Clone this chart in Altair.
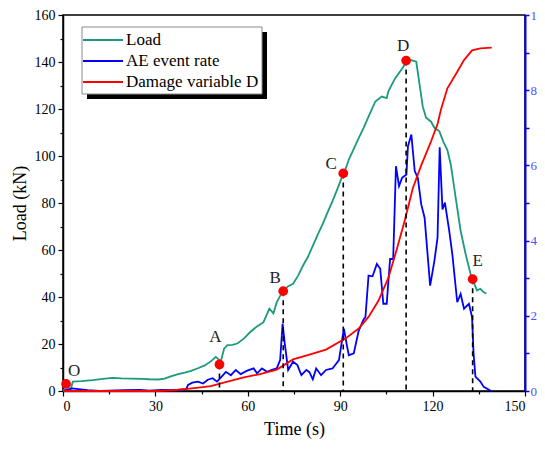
import altair as alt
import pandas as pd

# ---------------- data ----------------
time_load = [0, 2.5, 3.2, 6, 9.6, 13, 16, 19, 22.4, 25.6, 28, 31, 33, 35, 37.4, 39.5, 41.6, 44, 46, 48,
             49.6, 50.5, 51.2, 52.3, 53.4, 55, 56.6, 58.7, 60.8, 63, 65.1, 67, 68.3, 69.4, 70.5, 71.5,
             73, 74.7, 76.3, 77.9, 79.5, 81.1, 82.7, 84.3, 85.9, 87.5, 89.1, 90.7, 91.5, 92.8, 94.4, 96,
             97.6, 99.2, 101.4, 103.5, 105.1, 105.6, 107.8, 109.4, 110.5, 111.5, 113.1, 114.7, 115.8,
             116.8, 117.9, 119.5, 120.6, 122.2, 123.5, 124.8, 125.9, 127.5, 129.1, 130.7, 132.3, 133.0,
             134.4, 135.5, 136.6, 137.5]
load = [0.5, 0.8, 4, 4.2, 4.6, 5.2, 5.6, 5.4, 5.3, 5.2, 5.0, 4.9, 5.3, 6.2, 7.2, 7.8, 8.6, 9.8, 10.9, 12.6,
        14.5, 13.5, 12.4, 18, 19.5, 19.6, 20.2, 22.3, 25.1, 27.5, 29.3, 35.0, 33.0, 37.8, 40.5, 42.7,
        44.5, 45.6, 49, 53.3, 57, 61.8, 66.5, 71, 76, 80.8, 86, 91.4, 93.5, 98.5, 103, 107.6,
        112, 116.8, 123.2, 125.3, 124.6, 127.4, 133, 135.9, 138, 140.5, 140.8, 140.1, 130.2,
        121, 116.3, 114.6, 112, 110.5, 106, 102.5, 96.4, 82.2, 68.2, 58.4, 49.9, 47.5,
        42.8, 43.5, 42, 41.5]

time_ae = [0, 3, 5, 8, 12, 20, 25, 28, 32, 36, 40, 40.6, 42, 43.8, 45.5, 47, 48.6, 50, 51.3, 52.9,
           54.5, 56.1, 57.7, 59.8, 61.9, 63, 64.6, 66.2, 67.8, 69.4, 70.5, 71.3, 72, 73.1, 74.7, 76.1,
           77.4, 79, 80, 81.1, 82.2, 83.8, 85.4, 87.5, 89.6, 91.2, 92.2, 92.8, 94.4, 96, 97.6, 98.2,
           99.2, 100.5, 101.9, 103, 104, 105.1, 106.2, 107.2, 108.1, 109.1, 110.1, 111.5, 112, 113.1,
           114.2, 115.2, 116.3, 117.4, 119.2, 120.6, 121.6, 122.3, 123.2, 124, 125.4, 126.4, 128,
           129.1, 130.2, 131.8, 132.8, 133.3, 133.9, 135.5, 136.6, 139]
ae_rate = [0, 0.07, 0.05, 0.02, 0, 0.02, 0.03, 0.01, 0.03, 0.02, 0.05, 0.16, 0.22, 0.25, 0.2, 0.3, 0.34,
           0.25, 0.36, 0.51, 0.42, 0.56, 0.45, 0.54, 0.6, 0.47, 0.6, 0.51, 0.56, 0.6, 0.82, 1.79, 1.26,
           0.56, 0.78, 0.69, 0.42, 0.56, 0.5, 0.31, 0.6, 0.42, 0.56, 0.6, 0.82, 1.66, 1.2, 0.95, 1.0,
           1.6, 1.9, 1.97, 3.07, 3.05, 3.38, 3.25, 2.32, 2.32, 3.51, 3.51, 5.98, 5.45, 5.67, 5.76,
           6.51, 6.82, 5.85, 5.67, 4.97, 4.61, 2.8, 3.47, 4.08, 6.48, 4.83, 5.01, 4.26, 3.64, 2.36,
           2.58, 2.19, 2.32, 1.97, 1.0, 0.38, 0.25, 0.11, 0]

time_d = [0, 10, 20, 30, 36, 39.6, 44, 48, 53.4, 58.7, 64, 69.4, 74.7, 80, 85.4, 91.8, 96, 99.2,
          102.4, 105.6, 108.3, 111, 113.6, 116.3, 119.5, 121.6, 122.7, 124.8, 128, 130.2, 132.8,
          135.5, 139.2]
damage = [0, 0, 0, 0, 0.002, 0.005, 0.009, 0.013, 0.025, 0.036, 0.045, 0.057, 0.084, 0.097, 0.11,
          0.14, 0.166, 0.197, 0.24, 0.30, 0.375, 0.455, 0.54, 0.60, 0.664, 0.71, 0.748, 0.805,
          0.849, 0.88, 0.906, 0.911, 0.913]

point_time = [1.0, 50.8, 71.5, 91.0, 111.4, 133.0]
point_load = [3.0, 11.3, 42.5, 92.6, 140.6, 47.6]
point_label = ["O", "A", "B", "C", "D", "E"]

series_names = ["Load", "AE event rate", "Damage variable D"]
series_colors = ["#1b9a7c", "#0000ff", "#ff0000"]

# ---------------- chart ----------------
FONT = "Liberation Serif"

load_df = pd.DataFrame({"t": time_load, "v": load})
ae_df = pd.DataFrame({"t": time_ae, "v": ae_rate})
d_df = pd.DataFrame({"t": time_d, "v": damage})
pts_df = pd.DataFrame({"t": point_time, "v": point_load, "lab": point_label})
leg_df = pd.DataFrame({"name": series_names, "color": series_colors, "i": list(range(len(series_names)))})

xs = alt.Scale(domain=[0, 150], nice=False, zero=False)
ys_left = alt.Scale(domain=[0, 160], nice=False)
ys_right = alt.Scale(domain=[0, 10], nice=False)
ys_d = alt.Scale(domain=[0, 1], nice=False)

x_axis = alt.Axis(
    values=list(range(0, 151, 15)),
    labelExpr="datum.value % 30 === 0 ? datum.label : ''",
    tickSize={"condition": {"test": "datum.value % 30 === 0", "value": 5}, "value": 3},
    title="Time (s)", grid=False,
    domainColor="black", domainWidth=1.5, tickColor="black", tickWidth=1.2,
    labelFont=FONT, labelFontSize=14, labelColor="black", labelPadding=3,
    titleFont=FONT, titleFontSize=18, titleFontWeight="normal", titleColor="black", titlePadding=7,
)
x_enc = alt.X("t:Q", scale=xs, axis=x_axis)

left_axis = alt.Axis(
    orient="left",
    values=list(range(0, 161, 10)),
    labelExpr="datum.value % 20 === 0 ? datum.label : ''",
    tickSize={"condition": {"test": "datum.value % 20 === 0", "value": 5}, "value": 3},
    title="Load (kN)", grid=False,
    domainColor="black", domainWidth=1.5, tickColor="black", tickWidth=1.2,
    labelFont=FONT, labelFontSize=14, labelColor="black", labelPadding=3,
    titleFont=FONT, titleFontSize=18, titleFontWeight="normal", titleColor="black", titlePadding=5,
)
right_axis = alt.Axis(
    orient="right",
    values=list(range(0, 11, 1)),
    labelExpr="datum.value % 2 === 0 ? datum.label : ''",
    tickSize=4, title=None, grid=False,
    domainColor="#0000ff", domainWidth=2, tickColor="#0000ff", tickWidth=1.5,
    labelFont=FONT, labelFontSize=13, labelColor="#5050ff", labelPadding=1,
)

load_line = alt.Chart(load_df).mark_line(strokeWidth=1.8, color=series_colors[0]).encode(
    x=x_enc,
    y=alt.Y("v:Q", scale=ys_left, axis=left_axis),
)

ae_line = alt.Chart(ae_df).mark_line(strokeWidth=1.8, color=series_colors[1]).encode(
    x=x_enc,
    y=alt.Y("v:Q", scale=ys_right, axis=right_axis),
)

d_line = alt.Chart(d_df).mark_line(strokeWidth=1.8, color=series_colors[2]).encode(
    x=x_enc,
    y=alt.Y("v:Q", scale=ys_d, axis=None),
)

base_pts = alt.Chart(pts_df)
y_pts = alt.Y("v:Q", scale=ys_left, axis=None)
rules = base_pts.transform_filter("datum.lab !== 'O'").mark_rule(
    color="black", strokeDash=[5, 4], strokeWidth=1.6
).encode(x=x_enc, y=y_pts, y2=alt.datum(0))
dots = base_pts.mark_point(filled=True, color="#ff0000", size=95, opacity=1).encode(x=x_enc, y=y_pts)

label_offsets = {"O": (8, -13), "A": (-4, -27), "B": (-8, -13), "C": (-12, -9), "D": (-3, -15), "E": (5, -18)}
texts = []
for lab in point_label:
    dx, dy = label_offsets[lab]
    texts.append(
        base_pts.transform_filter(f"datum.lab === '{lab}'").mark_text(
            font=FONT, fontSize=17, color="#222222", dx=dx, dy=dy, baseline="middle", align="center"
        ).encode(x=x_enc, y=y_pts, text="lab:N")
    )

overlay = alt.layer(rules, dots, *texts)

# ---- legend (box with drop shadow) ----
one = pd.DataFrame({"k": [0]})
shadow = alt.Chart(one).mark_rect(color="black").encode(
    x=alt.value(24), x2=alt.value(204), y=alt.value(17), y2=alt.value(84)
)
box = alt.Chart(one).mark_rect(fill="white", stroke="#8a8a8a", strokeWidth=1).encode(
    x=alt.value(19), x2=alt.value(199), y=alt.value(12), y2=alt.value(79)
)
leg_base = alt.Chart(leg_df).transform_calculate(py="25 + datum.i * 21")
leg_lines = leg_base.mark_rule(strokeWidth=2).encode(
    x=alt.value(20), x2=alt.value(60),
    y=alt.Y("py:Q", scale=None, axis=None),
    color=alt.Color("color:N", scale=None, legend=None),
)
leg_text = leg_base.mark_text(font=FONT, fontSize=17, color="black", align="left", baseline="middle").encode(
    x=alt.value(63),
    y=alt.Y("py:Q", scale=None, axis=None),
    text="name:N",
)
legend_layer = alt.layer(shadow, box, leg_lines, leg_text)

chart = alt.layer(
    load_line, ae_line, d_line, overlay, legend_layer
).resolve_scale(y="independent").properties(
    width=462, height=376,
    autosize=alt.AutoSizeParams(type="none"),
    padding={"left": 55, "top": 7, "right": 12, "bottom": 50},
).configure_view(
    stroke="black", strokeWidth=1.5
)

chart.save("out.html", embed_options={"renderer": "svg", "actions": False})
